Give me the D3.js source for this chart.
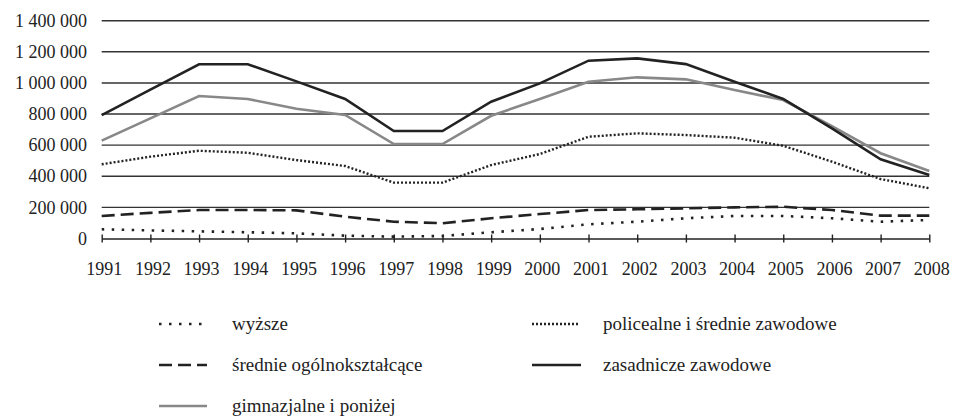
<!DOCTYPE html>
<html>
<head>
<meta charset="utf-8">
<script src="https://cdn.jsdelivr.net/npm/d3@7"></script>
<style>
  html, body { margin: 0; padding: 0; background: #fff; }
  svg { display: block; }
</style>
</head>
<body>
<svg id="chart" width="953" height="420"></svg>
<script>
const years = [1991,1992,1993,1994,1995,1996,1997,1998,1999,2000,2001,2002,2003,2004,2005,2006,2007,2008];
const yTicks = [0,200000,400000,600000,800000,1000000,1200000,1400000];

const wyzsze =        [59000,52000,46000,40000,33000,18000,12000,16000,40000,61000,91000,108000,130000,145000,145000,130000,108000,119000];
const policealne =    [477000,526000,564000,551000,504000,466000,359000,359000,472000,543000,654000,676000,665000,648000,596000,494000,382000,323000];
const srednieOgolne = [145000,165000,183000,183000,181000,140000,108000,98000,130000,157000,183000,188000,194000,200000,204000,183000,147000,147000];
const zasadnicze =    [793000,957000,1120000,1120000,1010000,897000,691000,691000,879000,997000,1143000,1158000,1121000,1008000,897000,708000,509000,408000];
const gimnazjalne =   [629000,772000,916000,897000,834000,794000,607000,607000,789000,897000,1008000,1036000,1023000,954000,890000,723000,548000,434000];

const seriesNames = ["wyższe","policealne i średnie zawodowe","średnie ogólnokształcące","zasadnicze zawodowe","gimnazjalne i poniżej"];

const FONT = "'Liberation Serif', 'Times New Roman', Tinos, 'Noto Serif', 'DejaVu Serif', FreeSerif, Times, serif";

const styles = {
  "wyższe": {color:"#222", width:2.6, dash:"2.5,7.5"},
  "policealne i średnie zawodowe": {color:"#222", width:2.4, dash:"2,2"},
  "średnie ogólnokształcące": {color:"#222", width:2.6, dash:"13,6"},
  "zasadnicze zawodowe": {color:"#222", width:2.6, dash:null},
  "gimnazjalne i poniżej": {color:"#888", width:2.6, dash:null}
};
const seriesData = {
  "wyższe": wyzsze,
  "policealne i średnie zawodowe": policealne,
  "średnie ogólnokształcące": srednieOgolne,
  "zasadnicze zawodowe": zasadnicze,
  "gimnazjalne i poniżej": gimnazjalne
};

const svg = d3.select("#chart");
const x = d3.scaleLinear().domain([1991, 2008]).range([101.7, 929.3]);
const y = d3.scaleLinear().domain([0, 1400000]).range([238.5, 20.7]);

const loc = d3.formatLocale({decimal:",", thousands:" ", grouping:[3], currency:["",""]});
const fmt = loc.format(",d");

// gridlines
svg.append("g").selectAll("line").data(yTicks.filter(d => d > 0)).join("line")
  .attr("x1", x(1991)).attr("x2", x(2008))
  .attr("y1", d => y(d)).attr("y2", d => y(d))
  .attr("stroke", "#333").attr("stroke-width", 1.4);

// y labels
const yl = svg.append("g").selectAll("text").data(yTicks).join("text")
  .attr("x", 87).attr("y", d => y(d)).attr("dy", "0.34em")
  .attr("text-anchor", "end")
  .attr("font-family", FONT).attr("font-size", 18).attr("fill", "#222")
  .text(d => fmt(d));

// x axis
const xAxis = d3.axisBottom(x).tickValues(years).tickFormat(d3.format("d")).tickSize(4).tickSizeOuter(0);
const gx = svg.append("g").attr("transform", `translate(0,${y(0)})`).call(xAxis)
  .attr("font-family", FONT).attr("font-size", 18);
gx.select(".domain").attr("stroke", "#222").attr("stroke-width", 1.4);
gx.selectAll(".tick line").attr("stroke", "#222").attr("stroke-width", 1.4).attr("y1", -4).attr("y2", 4);
gx.selectAll(".tick text").attr("y", 0).attr("dy", "36.5px").attr("dx", 2)
  .attr("font-family", FONT).attr("font-size", 18).attr("fill", "#222");

// lines
const line = d3.line().x((d, i) => x(years[i])).y(d => y(d));
const drawOrder = ["wyższe","średnie ogólnokształcące","policealne i średnie zawodowe","gimnazjalne i poniżej","zasadnicze zawodowe"];
drawOrder.forEach(name => {
  const s = styles[name];
  svg.append("path").datum(seriesData[name])
    .attr("d", line).attr("fill", "none")
    .attr("stroke", s.color).attr("stroke-width", s.width)
    .attr("stroke-dasharray", s.dash)
    .attr("stroke-linejoin", "miter");
});

// legend
const legendItems = [
  {name:"wyższe", x1:159, x2:202, tx:232, y:324},
  {name:"policealne i średnie zawodowe", x1:532, x2:580, tx:603, y:324},
  {name:"średnie ogólnokształcące", x1:159, x2:207, tx:232, y:365},
  {name:"zasadnicze zawodowe", x1:532, x2:581, tx:603, y:365},
  {name:"gimnazjalne i poniżej", x1:159, x2:207, tx:232, y:406}
];
const lg = svg.append("g");
legendItems.forEach(it => {
  const s = styles[it.name];
  lg.append("line").attr("x1", it.x1).attr("x2", it.x2).attr("y1", it.y).attr("y2", it.y)
    .attr("stroke", s.color).attr("stroke-width", s.width).attr("stroke-dasharray", s.dash);
  lg.append("text").attr("x", it.tx).attr("y", it.y).attr("dy", "0.3em")
    .attr("font-family", FONT).attr("font-size", 19).attr("fill", "#222")
    .text(it.name);
});
</script>
</body>
</html>
